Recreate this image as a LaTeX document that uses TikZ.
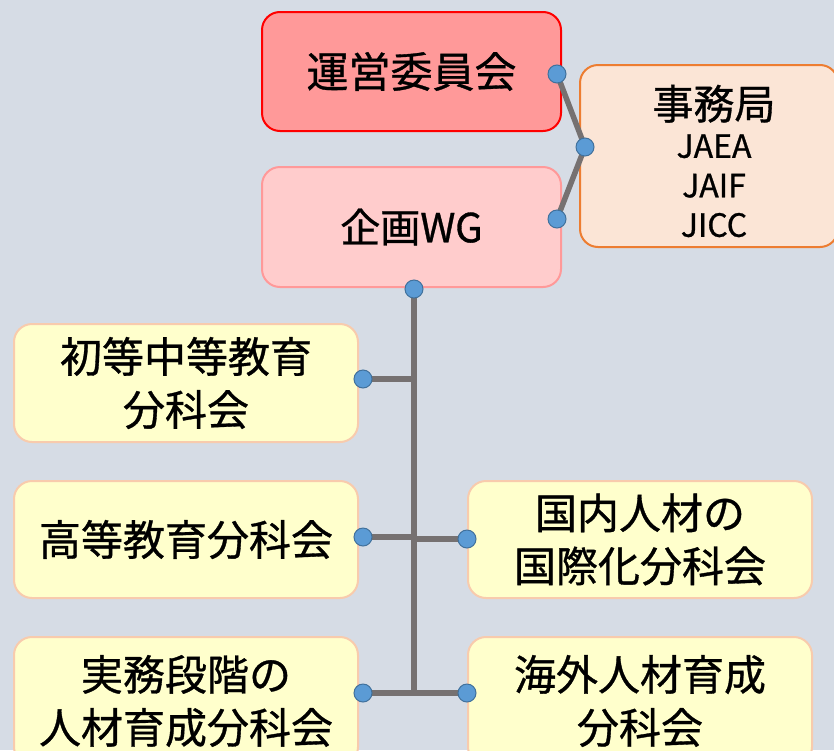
\documentclass[tikz,border=0pt]{standalone}
\usepackage{fontspec}
\setmainfont{Noto Sans CJK JP}[FakeBold=0.8]
\definecolor{bgc}{HTML}{D6DCE5}
\definecolor{uneifill}{HTML}{FF9999}
\definecolor{uneiline}{HTML}{FF0000}
\definecolor{wgfill}{HTML}{FFCCCC}
\definecolor{wgline}{HTML}{FF9999}
\definecolor{jimufill}{HTML}{FBE5D6}
\definecolor{jimuline}{HTML}{ED7D31}
\definecolor{subfill}{HTML}{FFFFCC}
\definecolor{subline}{HTML}{F8CBAD}
\definecolor{conn}{HTML}{767171}
\definecolor{dotfill}{HTML}{5B9BD5}
\definecolor{dotline}{HTML}{41719C}
\begin{document}
\begin{tikzpicture}[x=1pt,y=-1pt,
  box/.style={rectangle,rounded corners=18pt,line width=2pt,inner sep=0pt,align=center,text=black},
  uneibox/.style={box,fill=uneifill,draw=uneiline,minimum width=299pt,minimum height=119pt,font=\fontsize{42}{48}\selectfont},
  wgbox/.style={box,fill=wgfill,draw=wgline,minimum width=299pt,minimum height=120pt,font=\fontsize{40}{46}\selectfont},
  jimubox/.style={box,fill=jimufill,draw=jimuline,minimum width=258pt,minimum height=182pt},
  subbox/.style={box,fill=subfill,draw=subline,minimum width=344pt,font=\fontsize{42}{53}\selectfont},
  conline/.style={draw=conn,line width=6.5pt},
  topline/.style={draw=conn,line width=5.5pt},
  dotnode/.style={circle,fill=dotfill,draw=dotline,line width=1pt,minimum size=18pt,inner sep=0pt}]
\useasboundingbox (0,0) rectangle (834,750);
\fill[bgc] (0,0) rectangle (834,750);
\begin{scope}
\clip (0,0) rectangle (834,750);
% boxes
\node[uneibox] (unei) at (411.5,71.5) {運営委員会};
\node[wgbox] (wg) at (411.5,227) {企画WG};
\node[jimubox] (jimu) at (709,156) {};
\node[align=center,inner sep=0pt,font=\fontsize{32}{39.5}\selectfont] (jimutext) at (714,161)
  {{\fontsize{41}{44}\selectfont 事務局}\\[-1pt]JAEA\\JAIF\\JICC};
\node[subbox,minimum height=118pt] (shoto) at (186,383) {初等中等教育\\分科会};
\node[subbox,minimum height=117pt] (koto) at (186,539.5) {高等教育分科会};
\node[subbox,minimum height=117pt] (kokunai) at (640,539.5) {国内人材の\\国際化分科会};
\node[subbox,minimum height=128pt] (jitsumu) at (186,701) {実務段階の\\人材育成分科会};
\node[subbox,minimum height=128pt] (kaigai) at (640,701) {海外人材育成\\分科会};
% connection points
\coordinate (pu) at (557,74);
\coordinate (pj) at (585,147);
\coordinate (pw) at (557,219);
\coordinate (pwb) at (414,289);
\coordinate (t1) at (414,379);
\coordinate (t2) at (414,537);
\coordinate (t2r) at (414,539);
\coordinate (t3) at (414,693);
\coordinate (tend) at (414,696);
\coordinate (ps) at (363,379);
\coordinate (pk) at (363,537);
\coordinate (pn) at (467,539);
\coordinate (pm) at (363,693);
\coordinate (pg) at (467,693);
% connectors
\draw[topline,line join=round] (pu) -- (pj) -- (pw);
\draw[conline] (pwb) -- (tend);
\draw[conline] (t1) -- (ps);
\draw[conline] (t2) -- (pk);
\draw[conline] (t2r) -- (pn);
\draw[conline] (t3) -- (pm);
\draw[conline] (t3) -- (pg);
% dots
\node[dotnode] (du) at (pu) {};
\node[dotnode] (dj) at (pj) {};
\node[dotnode] (dw) at (pw) {};
\node[dotnode] (dwb) at (pwb) {};
\node[dotnode] (ds) at (ps) {};
\node[dotnode] (dk) at (pk) {};
\node[dotnode] (dn) at (pn) {};
\node[dotnode] (dm) at (pm) {};
\node[dotnode] (dg) at (pg) {};
\end{scope}
\end{tikzpicture}
\end{document}
